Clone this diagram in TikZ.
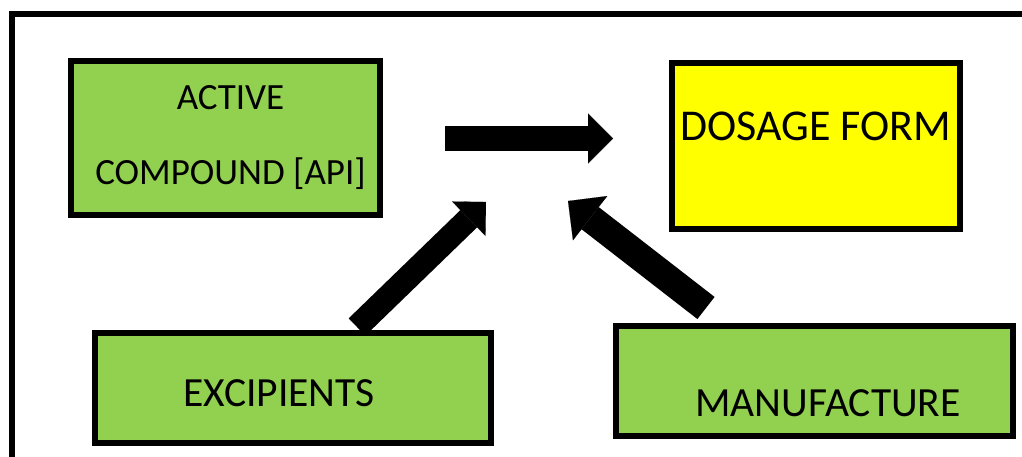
\documentclass[tikz,border=0pt]{standalone}
\usepackage{fontspec}
\setmainfont{Carlito}
\usetikzlibrary{arrows.meta,calc,backgrounds}
\definecolor{leafgreen}{HTML}{92D050}
\definecolor{signyellow}{HTML}{FFFF00}
\tikzset{
  box/.style={draw=black,line width=6pt,inner sep=0pt},
  greenbox/.style={box,fill=leafgreen},
  yellowbox/.style={box,fill=signyellow},
  blockarrow/.style={line width=#1,-{Triangle[length=#1,width=2*#1,line width=0.1pt]}}
}
\begin{document}
\begin{tikzpicture}[x=1pt,y=-1pt]
	\useasboundingbox (0,0) rectangle (1022,457);
	\clip (0,0) rectangle (1022,457);
	\draw[line width=6pt] (12,14) rectangle (1060,500);
	% boxes
	\node[greenbox,minimum width=309pt,minimum height=154pt,align=center,font=\fontsize{37}{75}\selectfont] (active) at (225.5,138) {\hspace*{10pt}ACTIVE\\\hspace*{10pt}COMPOUND [API]};
	\node[yellowbox,minimum width=288pt,minimum height=166pt,text height=28pt,text depth=38pt,font=\fontsize{44}{50}\selectfont] (dosage) at (816,146) {DOSAGE FORM};
	\node[greenbox,minimum width=396pt,minimum height=110pt,text height=36pt,text depth=0pt,font=\fontsize{41.5}{48}\selectfont] (excip) at (293,388) {EXCIPIENTS\hspace*{28pt}};
	\node[greenbox,minimum width=397pt,minimum height=110pt,text height=70pt,text depth=0pt,font=\fontsize{41.5}{48}\selectfont] (manuf) at (814.5,381) {\hspace*{27pt}MANUFACTURE};
	% arrows
	\coordinate (hstart) at (445,138.5);
	\coordinate (hend) at (613,138.5);
	\coordinate (ltip) at (486,202);
	\coordinate (rstart) at (706,308);
	\coordinate (rtip) at (568,201);
	\begin{scope}[on background layer]
		\draw[blockarrow=25pt] (hstart)--(hend);
		\draw[blockarrow=24pt] ($(excip.north)+(64,-3)$)--(ltip);
		\draw[blockarrow=28pt] (rstart)--(rtip);
	\end{scope}
\end{tikzpicture}
\end{document}
